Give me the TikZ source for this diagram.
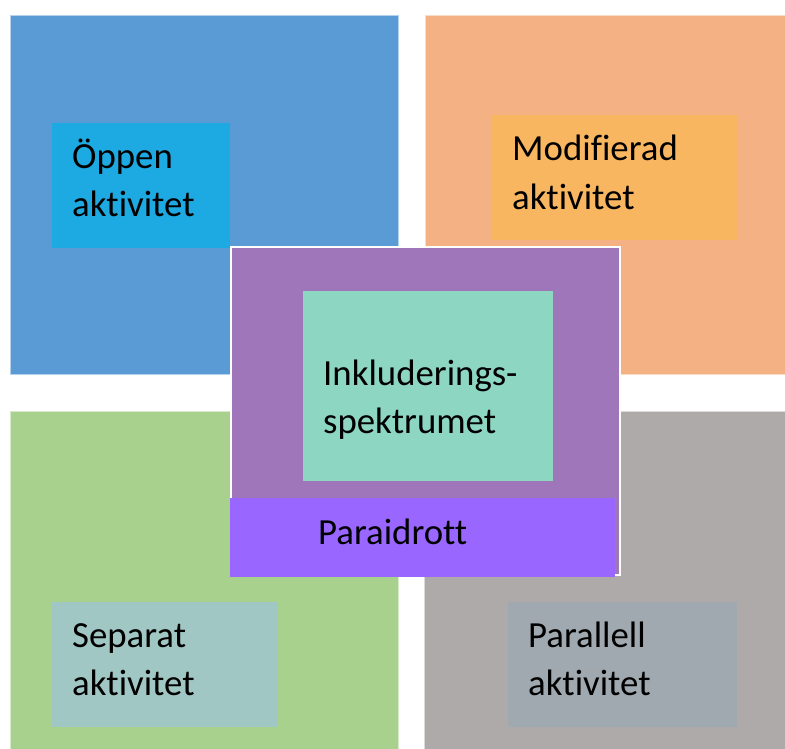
\documentclass[tikz,border=0pt]{standalone}
\usepackage{fontspec}
\setmainfont{Carlito}[Ligatures=NoCommon]
\usetikzlibrary{positioning}

\definecolor{openquad}{HTML}{5B9BD5}
\definecolor{modquad}{HTML}{F4B183}
\definecolor{sepquad}{HTML}{A9D18E}
\definecolor{parquad}{HTML}{AEAAAA}
\definecolor{openfill}{HTML}{1DA9E1}
\definecolor{modfill}{HTML}{F9B660}
\definecolor{sepfill}{HTML}{A1C7C4}
\definecolor{parfill}{HTML}{A0A9AF}
\definecolor{inclframe}{HTML}{9E76B9}
\definecolor{inclfill}{HTML}{8DD6C1}
\definecolor{parasport}{HTML}{9966FF}

\begin{document}
\begin{tikzpicture}[x=1pt, y=-1pt,
    quad block/.style={rectangle, anchor=north west, inner sep=0pt, fill=#1, draw=white!55!#1, line width=0.6pt},
    tag block/.style={rectangle, anchor=north west, inner sep=0pt, fill=#1},
    tag text/.style={anchor=base west, inner sep=0pt, text width=240pt, align=left,
        font=\fontsize{36.8}{48}\selectfont}]

    \useasboundingbox [fill=white] (0,0) rectangle (785,749);

    % four quadrants
    \node [quad block=openquad, minimum width=388, minimum height=359] (open) at (10,15) {};
    \node [quad block=modquad, minimum width=361, minimum height=359] (mod) at (425,15) {};
    \node [quad block=sepquad, minimum width=388, minimum height=338] (sep) at (10,411) {};
    \node [quad block=parquad, minimum width=361, minimum height=338] (par) at (424,411) {};

    % labels in the quadrants
    \node [tag block=openfill, minimum width=178, minimum height=125] (openbox) at (52,123) {};
    \node [tag block=modfill, minimum width=245, minimum height=125] (modbox) at (492,115) {};
    \node [tag block=sepfill, minimum width=226, minimum height=125] (sepbox) at (52,602) {};
    \node [tag block=parfill, minimum width=229, minimum height=125] (parbox) at (508,602) {};

    \node [tag text] (opentxt) at ([xshift=20pt, yshift=-45pt] openbox.north west) {Öppen\\aktivitet};
    \node [tag text] (modtxt) at ([xshift=20pt, yshift=-46pt] modbox.north west) {Modifierad\\aktivitet};
    \node [tag text] (septxt) at ([xshift=20pt, yshift=-45pt] sepbox.north west) {Separat\\aktivitet};
    \node [tag text] (partxt) at ([xshift=20pt, yshift=-45pt] parbox.north west) {Parallell\\aktivitet};

    % centre
    \node [tag block=inclframe, draw=white, line width=1.5pt, minimum width=389, minimum height=328] (incl) at (230,246) {};
    \node [tag block=inclfill, minimum width=250, minimum height=190] (inclbox) at (303,291) {};
    \node [tag text] (incltxt) at ([xshift=20pt, yshift=-94pt] inclbox.north west) {Inkluderings-\\spektrumet};

    \node [tag block=parasport, minimum width=385, minimum height=79] (para) at (230,498) {};
    \node [tag text] (paratxt) at ([xshift=88pt, yshift=-46pt] para.north west) {Paraidrott};
\end{tikzpicture}
\end{document}
